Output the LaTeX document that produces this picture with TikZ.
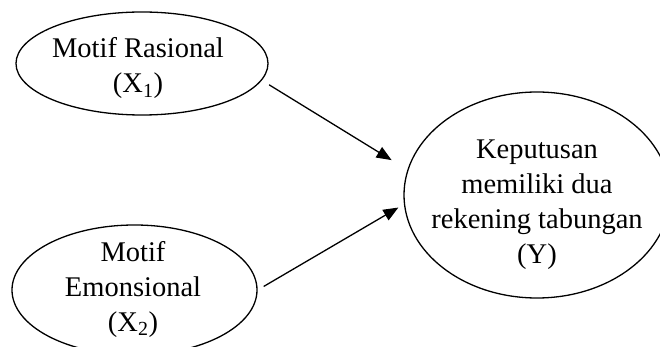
\documentclass[tikz,border=0pt]{standalone}
\usepackage{fontspec}
\setmainfont{Liberation Serif}
\usetikzlibrary{shapes.geometric,arrows.meta}
\tikzset{
  oval/.style={draw, ellipse, line width=1.3pt, inner sep=0pt},
  lbl/.style={align=center, font=\fontsize{28.5}{35}\selectfont},
  arr/.style={line width=1.3pt, -{Triangle[length=15pt,width=12pt]}}
}
\begin{document}
\begin{tikzpicture}[x=1pt,y=-1pt]
\useasboundingbox (0,0) rectangle (660,347);
\clip (0,0) rectangle (660,347);
\node[oval, minimum width=252pt, minimum height=103pt] (e1) at (142,63.5) {};
\node[oval, minimum width=245pt, minimum height=130pt] (e2) at (134.5,290) {};
\node[oval, minimum width=266pt, minimum height=206pt] (e3) at (537,195) {};
\node[lbl] (t1) at (138,68.5) {Motif Rasional\\(X\textsubscript{1})};
\node[lbl] (t2) at (133,289) {Motif\\Emonsional\\(X\textsubscript{2})};
\node[lbl] (t3) at (537,205) {Keputusan\\memiliki dua\\rekening tabungan\\(Y)};
\draw[arr, shorten <=8.5pt, shorten >=18.5pt] (e1.-8.2) -- (e3.169.4);
\draw[arr, shorten <=7pt, shorten >=6.4pt] (e2.0.7) -- (e3.184.2);
\end{tikzpicture}
\end{document}
